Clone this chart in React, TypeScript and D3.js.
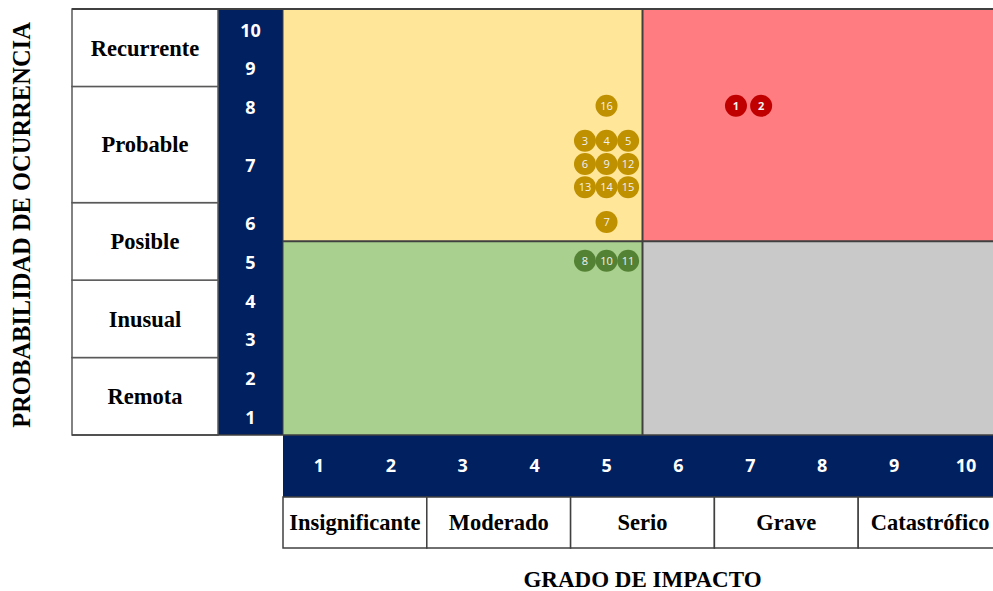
import React from "react";
import * as d3 from "d3";

// probability levels (bottom -> top) and the ticks each one covers
const probLevels = ["Remota", "Inusual", "Posible", "Probable", "Recurrente"];
const probLevelTicks = [[1, 2], [3, 4], [5, 6], [7, 8], [9, 10]];
const impactLevels = ["Insignificante", "Moderado", "Serio", "Grave", "Catastrófico"];
const impactLevelTicks = [[1, 2], [3, 4], [5, 6], [7, 8], [9, 10]];
const ticks = [1, 2, 3, 4, 5, 6, 7, 8, 9, 10];

// risks: id, impact, probability
const riskIds = [1, 2, 16, 3, 4, 5, 6, 9, 12, 13, 14, 15, 7, 8, 10, 11];
const riskImpact = [6.8, 7.15, 5, 4.7, 5, 5.3, 4.7, 5, 5.3, 4.7, 5, 5.3, 5, 4.7, 5, 5.3];
const riskProb = [8, 8, 8, 7.3, 7.3, 7.3, 7, 7, 7, 6.7, 6.7, 6.7, 6, 5, 5, 5];

const threshold = 5.5;
const zoneFill = { hl: "#ffe699", hh: "#ff7c80", ll: "#a9d08e", lh: "#c9c9c9" };
const dotFill = { hl: "#bf9000", hh: "#c00000", ll: "#548235", lh: "#7f7f7f" };
const navy = "#002060";
const line = "#404040";

export default function App() {
  const W = 993, H = 591;
  const top = 9, bottom = 435;
  const labelLeft = 72, navyLeft = 218, plotLeft = 283, plotRight = 1002;
  const bandBottom = 497, catBottom = 548;

  const x = d3.scaleLinear().domain([0.5, 10.5]).range([plotLeft, plotRight]);
  // row 7 is twice as tall as the others
  const spans = [1, 1, 1, 1, 1, 1, 2, 1, 1, 1];
  const cum = [0, ...d3.cumsum(spans)];
  const unit = (bottom - top) / cum[cum.length - 1];
  const y = d3
    .scaleLinear()
    .domain(cum.map((_, i) => i + 0.5))
    .range(cum.map((c) => bottom - c * unit));

  const zone = (ix: number, pr: number) =>
    (pr > threshold ? "h" : "l") + (ix > threshold ? "h" : "l");

  const quads = [
    { k: "hl", x0: 0.5, x1: threshold, y0: threshold, y1: 10.5 },
    { k: "hh", x0: threshold, x1: 10.5, y0: threshold, y1: 10.5 },
    { k: "ll", x0: 0.5, x1: threshold, y0: 0.5, y1: threshold },
    { k: "lh", x0: threshold, x1: 10.5, y0: 0.5, y1: threshold },
  ];

  const serif = "'Liberation Serif', 'Times New Roman', serif";
  const sans = "'Open Sans', 'Noto Sans', sans-serif";

  return (
    <svg
      width={W}
      height={H}
      style={{ position: "absolute", left: 0, top: 0, background: "#fff" }}
    >
      {/* quadrants */}
      {quads.map((q) => (
        <rect
          key={q.k}
          x={x(q.x0)}
          y={y(q.y1)}
          width={x(q.x1) - x(q.x0)}
          height={y(q.y0) - y(q.y1)}
          fill={zoneFill[q.k]}
        />
      ))}
      <line x1={plotLeft} x2={plotRight} y1={y(threshold)} y2={y(threshold)} stroke={line} strokeWidth={2} />
      <line x1={x(threshold)} x2={x(threshold)} y1={top} y2={bottom} stroke={line} strokeWidth={2} />

      {/* navy probability column */}
      <rect x={navyLeft} y={top} width={plotLeft - navyLeft} height={bottom - top} fill={navy} />
      {ticks.map((t) => (
        <text
          key={"py" + t}
          x={(navyLeft + plotLeft) / 2}
          y={y(t) + 2}
          dy="0.35em"
          textAnchor="middle"
          fill="#fff"
          fontFamily={sans}
          fontWeight="bold"
          fontSize={18}
        >
          {t}
        </text>
      ))}

      {/* probability labels */}
      {probLevels.map((name, i) => {
        const [a, b] = probLevelTicks[i];
        const y0 = y(b + 0.5), y1 = y(a - 0.5);
        return (
          <g key={name}>
            <rect x={labelLeft} y={y0} width={navyLeft - labelLeft} height={y1 - y0} fill="#fff" stroke="#595959" strokeWidth={1.5} />
            <text
              x={(labelLeft + navyLeft) / 2}
              y={(y0 + y1) / 2}
              dy="0.35em"
              textAnchor="middle"
              fontFamily={serif}
              fontWeight="bold"
              fontSize={22.5}
              fill="#000"
            >
              {name}
            </text>
          </g>
        );
      })}

      {/* navy impact band */}
      <rect x={plotLeft} y={bottom} width={plotRight - plotLeft} height={bandBottom - bottom} fill={navy} />
      {ticks.map((t) => (
        <text
          key={"px" + t}
          x={x(t)}
          y={(bottom + bandBottom) / 2}
          dy="0.35em"
          textAnchor="middle"
          fill="#fff"
          fontFamily={sans}
          fontWeight="bold"
          fontSize={18}
        >
          {t}
        </text>
      ))}

      {/* impact labels */}
      {impactLevels.map((name, i) => {
        const [a, b] = impactLevelTicks[i];
        const x0 = x(a - 0.5), x1 = x(b + 0.5);
        return (
          <g key={name}>
            <rect x={x0} y={bandBottom} width={x1 - x0} height={catBottom - bandBottom} fill="#fff" stroke="#404040" strokeWidth={1.5} />
            <text
              x={(x0 + x1) / 2}
              y={(bandBottom + catBottom) / 2}
              dy="0.35em"
              textAnchor="middle"
              fontFamily={serif}
              fontWeight="bold"
              fontSize={22.5}
              fill="#000"
            >
              {name}
            </text>
          </g>
        );
      })}

      {/* outer lines */}
      <line x1={labelLeft} x2={plotRight} y1={top} y2={top} stroke={line} strokeWidth={2} />
      <line x1={plotLeft} x2={plotLeft} y1={top} y2={bottom} stroke={line} strokeWidth={1} />
      <line x1={labelLeft} x2={plotRight} y1={bottom} y2={bottom} stroke={line} strokeWidth={1.5} />

      {/* risks */}
      {riskIds.map((id, i) => {
        const k = zone(riskImpact[i], riskProb[i]);
        return (
          <g key={"r" + id} transform={`translate(${x(riskImpact[i])},${y(riskProb[i])})`}>
            <circle r={11} fill={dotFill[k]} />
            <text
              dy="0.35em"
              textAnchor="middle"
              fill="#f2f2f2"
              fontFamily={sans}
              fontWeight={k === "hh" ? "bold" : "normal"}
              fontSize={11}
            >
              {id}
            </text>
          </g>
        );
      })}

      {/* axis titles */}
      <text
        transform={`translate(30,${(top + bottom) / 2 + 3}) rotate(-90)`}
        textAnchor="middle"
        fontFamily={serif}
        fontWeight="bold"
        fontSize={24.5}
        fill="#000"
      >
        PROBABILIDAD DE OCURRENCIA
      </text>
      <text
        x={x(5.5)}
        y={587}
        textAnchor="middle"
        fontFamily={serif}
        fontWeight="bold"
        fontSize={23}
        fill="#000"
      >
        GRADO DE IMPACTO
      </text>
    </svg>
  );
}
